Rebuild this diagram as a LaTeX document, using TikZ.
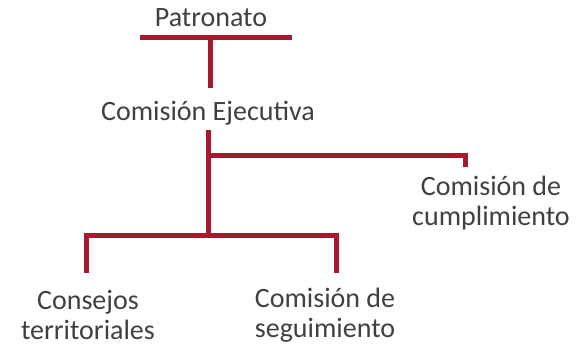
\documentclass[tikz,border=0pt]{standalone}
\usepackage{fontspec}
\setmainfont{Carlito}
\definecolor{linered}{HTML}{A6192E}
\definecolor{txtgray}{HTML}{404040}
\begin{document}
\begin{tikzpicture}[x=1pt,y=1pt,
  conn/.style={draw=linered,line width=5pt},
  lbl/.style={text=txtgray,font=\fontsize{28}{30}\selectfont,align=center,inner sep=0pt}]
\useasboundingbox (0,0) rectangle (580,349);
\node[lbl] (pat) at (211,331) {Patronato};
\node[lbl] (ce) at (208,236) {Comisión Ejecutiva};
\node[lbl] (cc) at (491,146) {Comisión de\\cumplimiento};
\node[lbl] (ct) at (88,34) {Consejos\\territoriales};
\node[lbl] (cs) at (325,34) {Comisión de\\seguimiento};
\coordinate (tl) at (140,312);
\coordinate (tr) at (292,312);
\coordinate (tm) at (210,312);
\coordinate (tb) at (210,261);
\coordinate (mt) at (208,219);
\coordinate (mj) at (208,194);
\coordinate (mr) at (465,194);
\coordinate (md) at (465,182);
\coordinate (bj) at (208,114);
\coordinate (bl) at (86,114);
\coordinate (br) at (336,114);
\coordinate (bld) at (86,76);
\coordinate (brd) at (336,76);
\draw[conn] (tl) -- (tr);
\draw[conn] (tm) -- (tb);
\draw[conn] (mt) -- (bj);
\draw[conn] (mj) -- (mr) -- (md);
\draw[conn] (bld) -- (bl) -- (br) -- (brd);
\end{tikzpicture}
\end{document}
